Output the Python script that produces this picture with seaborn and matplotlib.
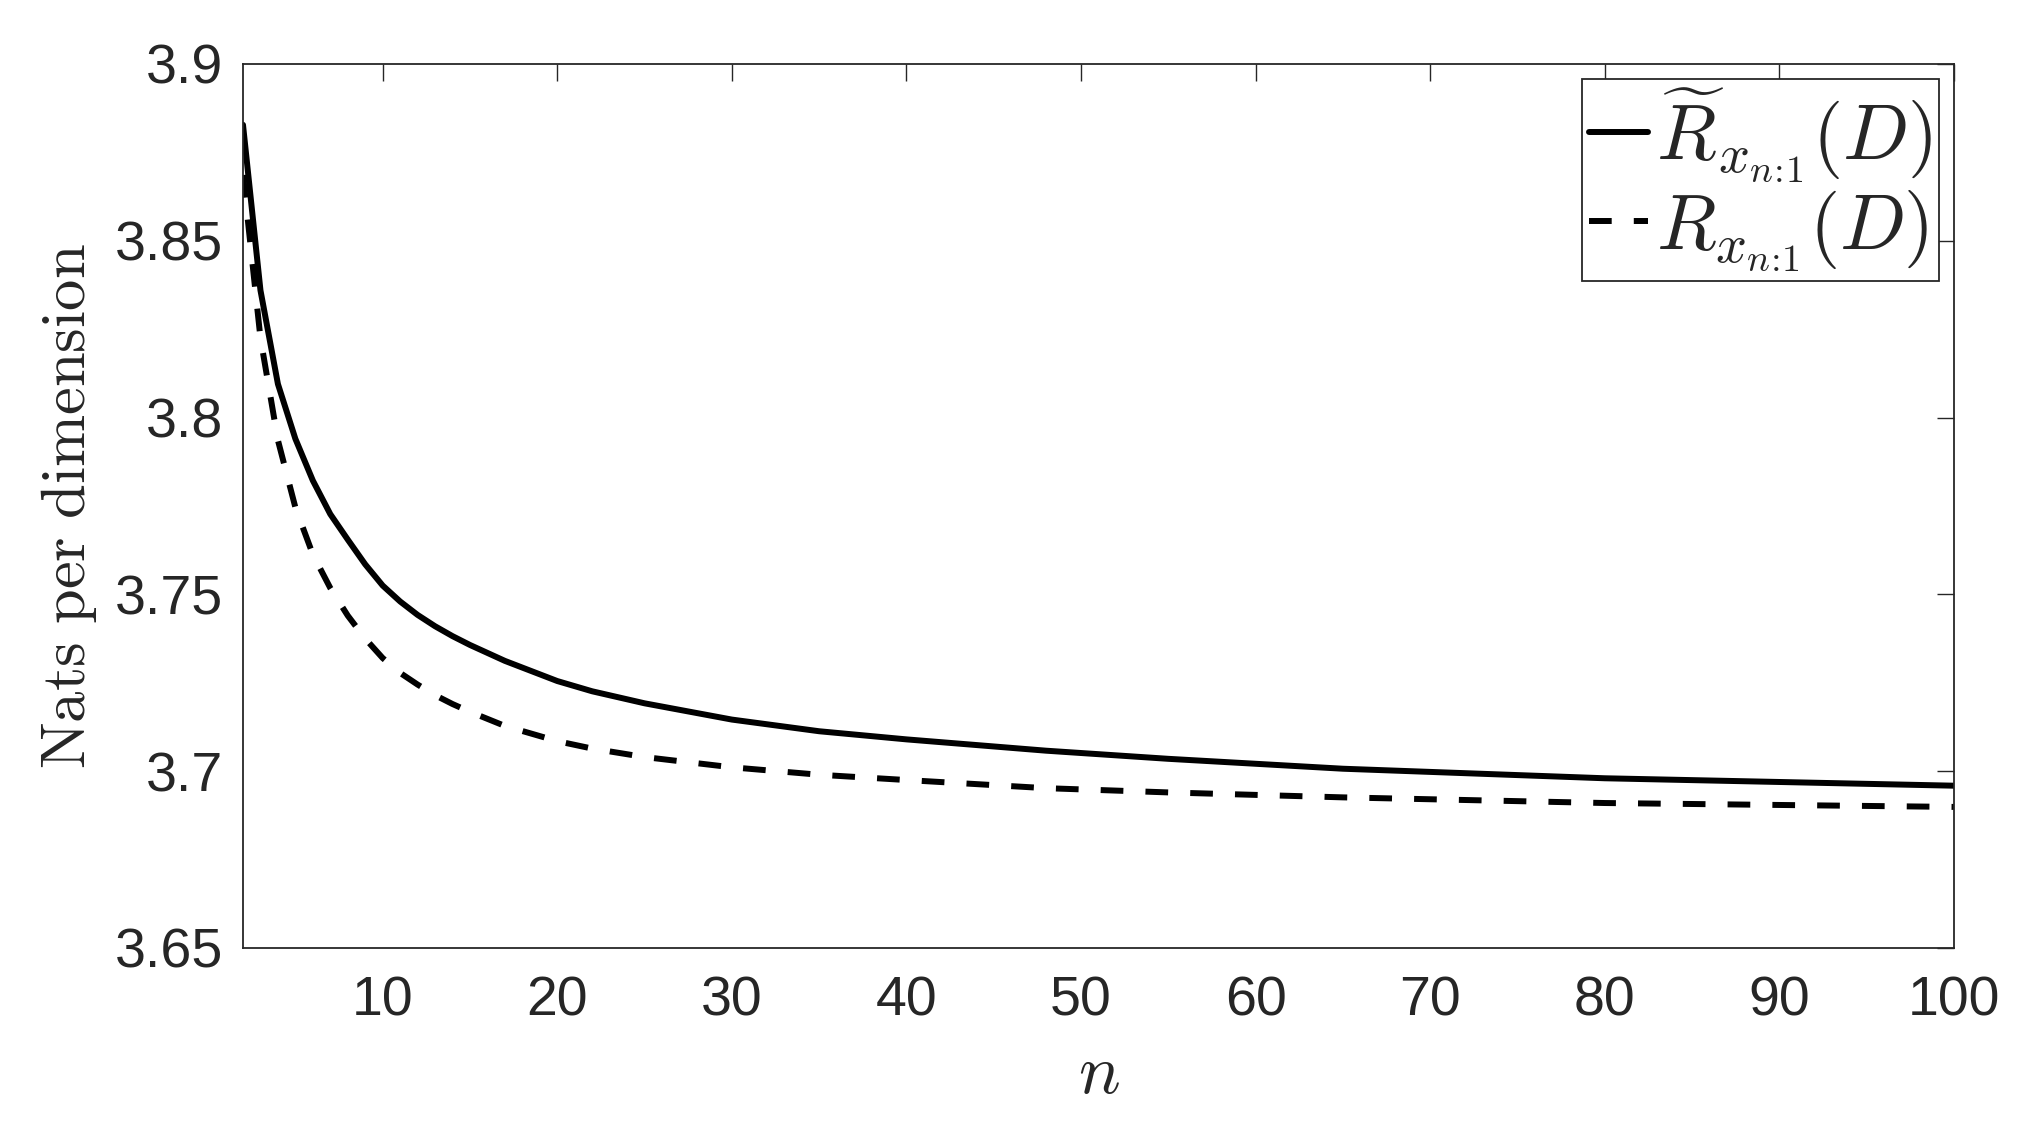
import numpy as np
import pandas as pd
import seaborn as sns
import matplotlib.pyplot as plt
from matplotlib.ticker import FuncFormatter

# values
n_values = [2, 3, 4, 5, 6, 7, 8, 9, 10, 11, 12, 13, 14, 15, 17, 20, 22, 25, 30, 35,
            40, 48, 55, 65, 80, 100]
r_tilde = [3.8828, 3.8360, 3.8095, 3.7940, 3.7822, 3.7727, 3.7655, 3.7585, 3.7525, 3.7480,
           3.7442, 3.7410, 3.7382, 3.7357, 3.7312, 3.7255, 3.7226, 3.7192, 3.7146, 3.7113,
           3.7090, 3.7058, 3.7035, 3.7007, 3.6980, 3.6959]
r_exact = [3.8686, 3.8225, 3.7936, 3.7746, 3.7613, 3.7518, 3.7440, 3.7375, 3.7320, 3.7278,
           3.7245, 3.7215, 3.7190, 3.7168, 3.7128, 3.7085, 3.7064, 3.7040, 3.7011, 3.6990,
           3.6975, 3.6952, 3.6940, 3.6926, 3.6910, 3.6899]
labels = [r'$\widetilde{R}_{x_{n\!:\!1}}(D)$', r'$R_{x_{n\!:\!1}}(D)$']
x_ticks = list(range(10, 101, 10))
y_ticks = [3.65, 3.7, 3.75, 3.8, 3.85, 3.9]

sns.set_style('white')
plt.rcParams['font.family'] = ['Liberation Sans', 'DejaVu Sans']
plt.rcParams['mathtext.fontset'] = 'cm'

df = pd.DataFrame({'n': n_values * 2,
                   'value': r_tilde + r_exact,
                   'series': [labels[0]] * len(n_values) + [labels[1]] * len(n_values)})

fig = plt.figure(figsize=(20.38, 11.24), dpi=100)
ax = fig.add_axes([243 / 2038, 1 - 948 / 1124, (1954 - 243) / 2038, (948 - 64) / 1124])

sns.lineplot(data=df, x='n', y='value', style='series', style_order=labels,
             dashes={labels[0]: '', labels[1]: (3.8, 3.7)},
             color='black', linewidth=4.3, ax=ax)

ax.set_xlim(2, 100)
ax.set_ylim(3.65, 3.9)
ax.set_xticks(x_ticks)
ax.set_yticks(y_ticks)
ax.yaxis.set_major_formatter(FuncFormatter(lambda v, p: '%g' % round(v, 3)))

grey = '#262626'
for s in ax.spines.values():
    s.set_visible(True)
    s.set_color(grey)
    s.set_linewidth(1.3)
ax.tick_params(axis='both', which='major', direction='in', length=12, width=1.0,
               color=grey, labelcolor=grey, labelsize=40,
               top=True, right=True)
ax.tick_params(axis='y', pad=14)
ax.tick_params(axis='x', pad=20)

ax.set_xlabel(r'$n$', fontsize=50, color=grey, labelpad=11)
ax.set_ylabel(r'$\mathrm{Nats\ per\ dimension}$', fontsize=45, color=grey, labelpad=12)

leg = ax.legend(loc='upper right', fontsize=56, frameon=True, fancybox=False,
                edgecolor='#262626', framealpha=1, borderaxespad=0.19,
                handlelength=0.75, handletextpad=0.1, borderpad=0.1,
                labelspacing=0.05)
leg.get_frame().set_linewidth(1.3)

fig.savefig('out.png', dpi=100)
